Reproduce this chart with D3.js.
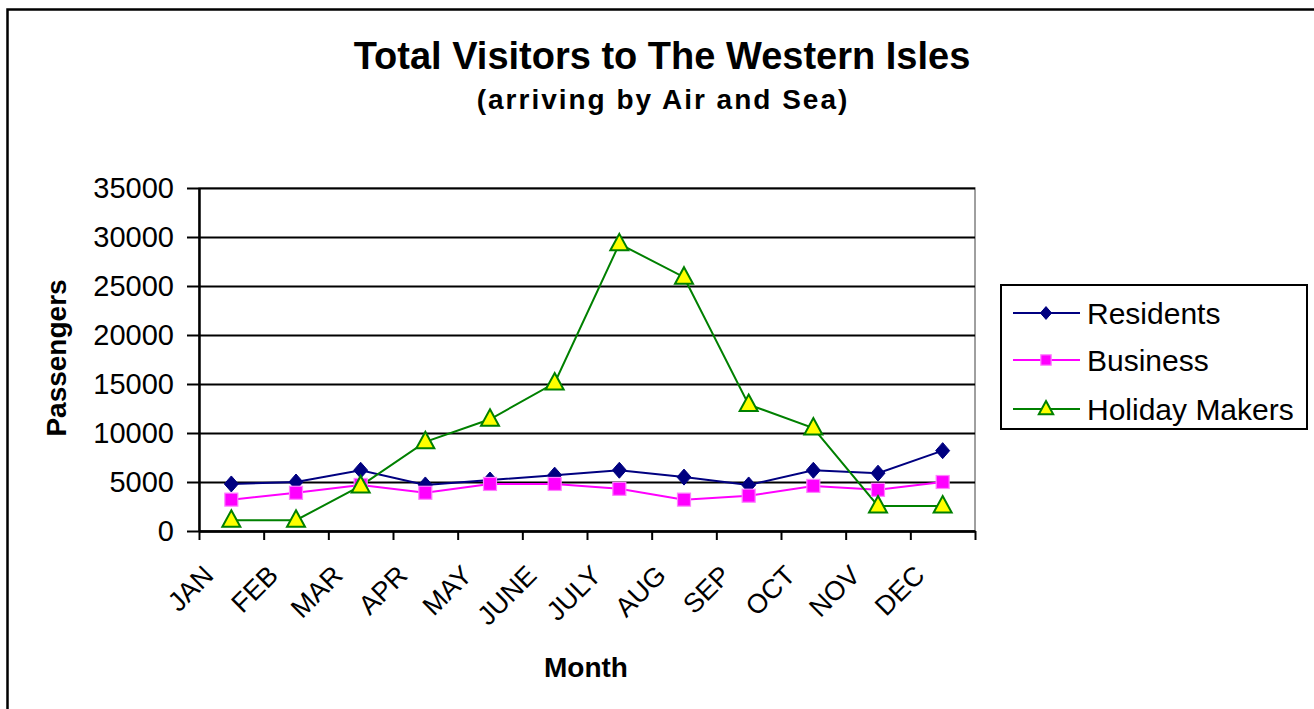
<!DOCTYPE html>
<html>

<head>
    <meta charset="utf-8">
    <script src="https://d3js.org/d3.v7.min.js"></script>
    <style>
        * {
            margin: 0;
            padding: 0;
        }

        body {
            width: 1314px;
            height: 709px;
            overflow: hidden;
            background: #fff;
            font-family: "Liberation Sans", Arial, sans-serif;
        }
    </style>
</head>

<body>
    <div id="chart"></div>
</body>
<script>
    // values
    let months = ["JAN", "FEB", "MAR", "APR", "MAY", "JUNE", "JULY", "AUG", "SEP", "OCT", "NOV", "DEC"];
    let residents = [4800, 5000, 6200, 4700, 5200, 5700, 6200, 5500, 4700, 6200, 5900, 8200];
    let business = [3200, 3900, 4700, 3900, 4800, 4800, 4300, 3200, 3600, 4600, 4200, 5000];
    let holiday = [1100, 1100, 4600, 9100, 11400, 15100, 29300, 25900, 12900, 10500, 2550, 2550];
    let yTicks = [0, 5000, 10000, 15000, 20000, 25000, 30000, 35000];
    let seriesNames = ["Residents", "Business", "Holiday Makers"];

    let W = 1314, H = 709;
    let margin = { top: 188, right: 339, bottom: 178, left: 199 };
    let width = W - margin.left - margin.right,
        height = H - margin.top - margin.bottom;

    let svg = d3.select("#chart").append("svg")
        .attr("width", W)
        .attr("height", H);

    // outer frame (right and bottom run off the picture)
    svg.append("rect")
        .attr("x", 7.5).attr("y", 9.5)
        .attr("width", 1330).attr("height", 720)
        .attr("fill", "none").attr("stroke", "#000").attr("stroke-width", 2.5);

    svg.append("text")
        .attr("x", 662).attr("y", 69)
        .attr("text-anchor", "middle")
        .style("font-size", "38px").style("font-weight", "bold")
        .text("Total Visitors to The Western Isles");

    svg.append("text")
        .attr("x", 663).attr("y", 109)
        .attr("text-anchor", "middle")
        .style("font-size", "28px").style("font-weight", "bold")
        .style("letter-spacing", "2px")
        .text("(arriving by Air and Sea)");

    let g = svg.append("g")
        .attr("transform", "translate(" + margin.left + "," + margin.top + ")");

    let x = d3.scaleBand()
        .domain(months)
        .range([0, width]);

    let xEdge = d3.scaleLinear()
        .domain([0, months.length])
        .range([0, width]);

    let y = d3.scaleLinear()
        .domain([0, 35000])
        .range([height, 0]);

    // plot area border
    g.append("rect")
        .attr("width", width).attr("height", height)
        .attr("fill", "#fff").attr("stroke", "#808080").attr("stroke-width", 1.5);

    // gridlines
    g.append("g")
        .call(d3.axisRight(y).tickValues(yTicks).tickSize(width).tickFormat(""))
        .call(a => a.select(".domain").remove())
        .call(a => a.selectAll(".tick line").attr("stroke", "#000").attr("stroke-width", 2));

    // y axis
    g.append("g")
        .call(d3.axisLeft(y).tickValues(yTicks).tickSize(12).tickSizeOuter(0).tickPadding(13).tickFormat(d3.format("d")))
        .call(a => a.select(".domain").attr("stroke-width", 2.5))
        .call(a => a.selectAll(".tick line").attr("stroke-width", 2))
        .call(a => a.selectAll(".tick text")
            .style("font-size", "29px")
            .style("font-family", "Liberation Sans, Arial, sans-serif")
            .attr("fill", "#000"));

    // x axis: ticks between categories
    g.append("g")
        .attr("transform", "translate(0," + height + ")")
        .call(d3.axisBottom(xEdge).tickValues(d3.range(months.length + 1)).tickSize(9).tickSizeOuter(0).tickFormat(""))
        .call(a => a.select(".domain").attr("stroke-width", 2.5))
        .call(a => a.selectAll(".tick line").attr("stroke-width", 2));

    g.append("g")
        .selectAll("text")
        .data(months)
        .enter()
        .append("text")
        .attr("transform", d => "translate(" + (x(d) + 16) + "," + (height + 46) + ") rotate(-45)")
        .attr("text-anchor", "end")
        .style("font-size", "27px")
        .text(d => d);

    svg.append("text")
        .attr("x", 586).attr("y", 677)
        .attr("text-anchor", "middle")
        .style("font-size", "28px").style("font-weight", "bold")
        .text("Month");

    svg.append("text")
        .attr("transform", "translate(66,358) rotate(-90)")
        .attr("text-anchor", "middle")
        .style("font-size", "28px").style("font-weight", "bold")
        .text("Passengers");

    // series
    let series = [
        { name: seriesNames[0], values: residents, color: "#000080", shape: "diamond" },
        { name: seriesNames[1], values: business, color: "#ff00ff", shape: "square" },
        { name: seriesNames[2], values: holiday, color: "#008000", shape: "triangle" }
    ];

    let line = d3.line()
        .x((d, i) => x(months[i]) + x.bandwidth() / 2)
        .y(d => y(d));

    function marker(sel, s, scale) {
        if (s.shape == "diamond") {
            sel.append("path")
                .attr("d", "M0,-8L7,0L0,8L-7,0Z".replace(/-?\d+(\.\d+)?/g, n => +n * scale))
                .attr("fill", "#000080").attr("stroke", "#000080").attr("stroke-width", 1);
        } else if (s.shape == "square") {
            sel.append("rect")
                .attr("x", -6.5 * scale).attr("y", -6.5 * scale)
                .attr("width", 13 * scale).attr("height", 13 * scale)
                .attr("fill", "#ff00ff").attr("stroke", "#ff80ff").attr("stroke-width", 1.2);
        } else {
            sel.append("path")
                .attr("d", "M0,-10L9,6.5L-9,6.5Z".replace(/-?\d+(\.\d+)?/g, n => +n * scale))
                .attr("fill", "#ffff00").attr("stroke", "#008000").attr("stroke-width", 2);
        }
    }

    series.forEach(s => {
        g.append("path")
            .datum(s.values)
            .attr("d", line)
            .attr("fill", "none")
            .attr("stroke", s.color)
            .attr("stroke-width", 2);
    });

    series.forEach(s => {
        g.append("g")
            .selectAll("g")
            .data(s.values)
            .enter()
            .append("g")
            .attr("transform", (d, i) => "translate(" + (x(months[i]) + x.bandwidth() / 2) + "," + y(d) + ")")
            .each(function () { marker(d3.select(this), s, 1); });
    });

    // legend
    let legend = svg.append("g").attr("transform", "translate(1001,285)");
    legend.append("rect")
        .attr("width", 306).attr("height", 144)
        .attr("fill", "#fff").attr("stroke", "#000").attr("stroke-width", 2);

    let ly = [28, 75, 124];
    series.forEach((s, i) => {
        let row = legend.append("g").attr("transform", "translate(0," + ly[i] + ")");
        row.append("line")
            .attr("x1", 12).attr("x2", 79)
            .attr("stroke", s.color).attr("stroke-width", 2);
        marker(row.append("g").attr("transform", "translate(45,0)"), s, 0.8);
        row.append("text")
            .attr("x", 86).attr("y", 0)
            .attr("dy", "0.35em")
            .style("font-size", "30px")
            .text(s.name);
    });
</script>

</html>
